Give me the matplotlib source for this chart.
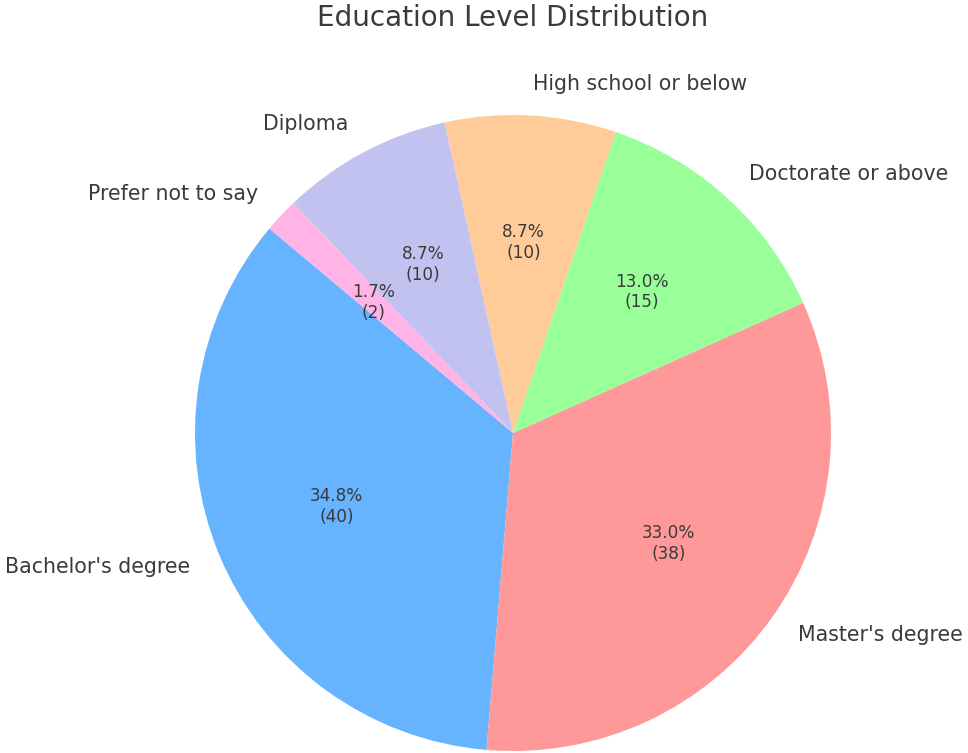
import matplotlib
matplotlib.use('Agg')
import matplotlib.pyplot as plt

# data
labels = ["Bachelor's degree", "Master's degree", "Doctorate or above",
          "High school or below", "Diploma", "Prefer not to say"]
counts = [40, 38, 15, 10, 10, 2]
colors = ['#66b3ff', '#ff9999', '#99ff99', '#ffcc99', '#c2c2f0', '#ffb3e6']

total = sum(counts)


def fmt(pct):
    n = int(round(pct * total / 100.0))
    return '{:.1f}%\n({})'.format(pct, n)


text_color = '#3a3a3a'

fig = plt.figure(figsize=(9.68, 7.53), dpi=100)
ax = fig.add_axes([0, 0, 1, 1])

wedges, texts, autotexts = ax.pie(counts, labels=labels, colors=colors,
                                  autopct=fmt, startangle=140,
                                  labeldistance=1.1, pctdistance=0.6,
                                  textprops={'color': text_color})
for t in texts:
    t.set_fontsize(14.8)
for t in autotexts:
    t.set_fontsize(12.2)

# place pie: centre at (513, 433) px from top-left, radius ~318 px
r = 318.0
cx, cy = 513.0, 753.0 - 433.0
ax.set_xlim(-cx / r, (968 - cx) / r)
ax.set_ylim(-cy / r, (753 - cy) / r)
ax.set_aspect('auto')
ax.axis('off')

fig.text(513 / 968, 1 - 18 / 753, 'Education Level Distribution',
         ha='center', va='center', fontsize=20, color=text_color)

fig.savefig('out.png', dpi=100)
